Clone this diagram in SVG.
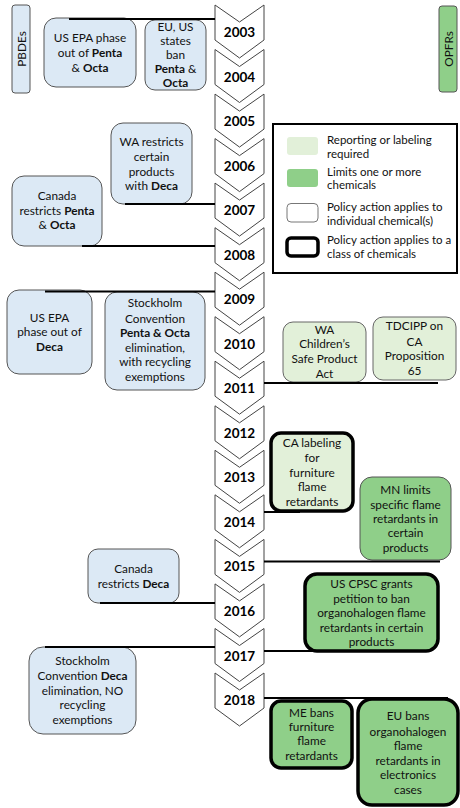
<svg xmlns="http://www.w3.org/2000/svg" width="460" height="808" viewBox="0 0 460 808">
<style>
.lb{fill:#dce9f5;stroke:#555;stroke-width:1}
.lg{fill:#e2f0d9;stroke:#666;stroke-width:1}
.mg{fill:#8fcf89;stroke:#555;stroke-width:1}
.thick{stroke:#000;stroke-width:3.5}
.t{font-family:Lato,"Open Sans",sans-serif;font-size:11.8px;fill:#111;text-anchor:middle}
.lt{font-family:Lato,"Open Sans",sans-serif;font-size:11.5px;fill:#111}
.b{font-weight:bold}
.yr{font-family:Lato,"Open Sans",sans-serif;font-size:13.5px;font-weight:bold;fill:#000;text-anchor:middle}
.chev{fill:#fff;stroke:#444;stroke-width:1}
.conn{stroke:#000;stroke-width:2;fill:none}
</style>
<defs>
<path id="chv" d="M215,0 L239.5,17 L264,0 L264,35 L239.5,53 L215,35 Z"/>
</defs>
<rect width="460" height="808" fill="#fff"/>

<g id="timeline">
<use href="#chv" class="chev" y="5"/><text class="yr" x="239.5" y="37">2003</text>
<use href="#chv" class="chev" y="49.5"/><text class="yr" x="239.5" y="81.5">2004</text>
<use href="#chv" class="chev" y="94.1"/><text class="yr" x="239.5" y="126">2005</text>
<use href="#chv" class="chev" y="138.6"/><text class="yr" x="239.5" y="170.6">2006</text>
<use href="#chv" class="chev" y="183.1"/><text class="yr" x="239.5" y="215.1">2007</text>
<use href="#chv" class="chev" y="227.7"/><text class="yr" x="239.5" y="259.7">2008</text>
<use href="#chv" class="chev" y="272.2"/><text class="yr" x="239.5" y="304.2">2009</text>
<use href="#chv" class="chev" y="316.7"/><text class="yr" x="239.5" y="348.7">2010</text>
<use href="#chv" class="chev" y="361.2"/><text class="yr" x="239.5" y="393.2">2011</text>
<use href="#chv" class="chev" y="405.8"/><text class="yr" x="239.5" y="437.8">2012</text>
<use href="#chv" class="chev" y="450.3"/><text class="yr" x="239.5" y="482.3">2013</text>
<use href="#chv" class="chev" y="494.8"/><text class="yr" x="239.5" y="526.8">2014</text>
<use href="#chv" class="chev" y="539.4"/><text class="yr" x="239.5" y="571.4">2015</text>
<use href="#chv" class="chev" y="583.9"/><text class="yr" x="239.5" y="615.9">2016</text>
<use href="#chv" class="chev" y="628.5"/><text class="yr" x="239.5" y="660.5">2017</text>
<use href="#chv" class="chev" y="673"/><text class="yr" x="239.5" y="705">2018</text>
</g>

<g id="pbdes">
<rect class="lb" x="12" y="5" width="18" height="88" rx="3"/>
<text class="t" transform="translate(25.5,49) rotate(-90)">PBDEs</text>
</g>
<g id="opfrs">
<rect class="mg" x="439" y="6" width="18" height="86" rx="3"/>
<text class="t" transform="translate(452.5,49) rotate(-90)">OPFRs</text>
</g>

<g id="us-epa-penta-octa">
<rect class="lb" x="44" y="18" width="92" height="69" rx="12"/>
<text class="t" x="90" y="42">US EPA phase</text>
<text class="t" x="90" y="57">out of <tspan class="b">Penta</tspan></text>
<text class="t" x="90" y="72">&amp; <tspan class="b">Octa</tspan></text>
</g>
<g id="eu-us-states">
<rect class="lb" x="145" y="20" width="61" height="70" rx="10"/>
<text class="t" x="175.5" y="31">EU, US</text>
<text class="t" x="175.5" y="45">states</text>
<text class="t" x="175.5" y="59">ban</text>
<text class="t" x="175.5" y="73"><tspan class="b">Penta</tspan> &amp;</text>
<text class="t b" x="175.5" y="87">Octa</text>
</g>
<g id="wa-restricts">
<rect class="lb" x="111" y="123" width="81" height="81" rx="12"/>
<text class="t" x="151.5" y="146">WA restricts</text>
<text class="t" x="151.5" y="161">certain</text>
<text class="t" x="151.5" y="176">products</text>
<text class="t" x="151.5" y="190">with <tspan class="b">Deca</tspan></text>
</g>
<g id="canada-penta-octa">
<rect class="lb" x="12" y="176" width="90" height="70" rx="12"/>
<text class="t" x="57" y="200">Canada</text>
<text class="t" x="57" y="215">restricts <tspan class="b">Penta</tspan></text>
<text class="t" x="57" y="229">&amp; <tspan class="b">Octa</tspan></text>
</g>
<g id="us-epa-deca">
<rect class="lb" x="7" y="290" width="85" height="84" rx="12"/>
<text class="t" x="49.5" y="322">US EPA</text>
<text class="t" x="49.5" y="336">phase out of</text>
<text class="t b" x="49.5" y="351">Deca</text>
</g>
<g id="stockholm-penta-octa">
<rect class="lb" x="105" y="292" width="100" height="98" rx="12"/>
<text class="t" x="155" y="307">Stockholm</text>
<text class="t" x="155" y="323">Convention</text>
<text class="t b" x="155" y="337">Penta &amp; Octa</text>
<text class="t" x="155" y="352">elimination,</text>
<text class="t" x="155" y="366">with recycling</text>
<text class="t" x="155" y="381">exemptions</text>
</g>
<g id="canada-deca">
<rect class="lb" x="88" y="549" width="91" height="54" rx="10"/>
<text class="t" x="133.5" y="573">Canada</text>
<text class="t" x="133.5" y="588">restricts <tspan class="b">Deca</tspan></text>
</g>
<g id="stockholm-deca">
<rect class="lb" x="29" y="647" width="107" height="87" rx="14"/>
<text class="t" x="82.5" y="665">Stockholm</text>
<text class="t" x="82.5" y="680">Convention <tspan class="b">Deca</tspan></text>
<text class="t" x="82.5" y="695">elimination, NO</text>
<text class="t" x="82.5" y="709">recycling</text>
<text class="t" x="82.5" y="724">exemptions</text>
</g>

<g id="wa-children">
<rect class="lg" x="283" y="322" width="83" height="60" rx="10"/>
<text class="t" x="324.5" y="334">WA</text>
<text class="t" x="324.5" y="348">Children’s</text>
<text class="t" x="324.5" y="363">Safe Product</text>
<text class="t" x="324.5" y="378">Act</text>
</g>
<g id="tdcipp">
<rect class="lg" x="373" y="317" width="83" height="63" rx="10"/>
<text class="t" x="414.5" y="330">TDCIPP on</text>
<text class="t" x="414.5" y="346">CA</text>
<text class="t" x="414.5" y="360">Proposition</text>
<text class="t" x="414.5" y="375">65</text>
</g>
<g id="ca-labeling">
<rect class="lg thick" x="271" y="433" width="82" height="78" rx="10"/>
<text class="t" x="312" y="447">CA labeling</text>
<text class="t" x="312" y="462">for</text>
<text class="t" x="312" y="477">furniture</text>
<text class="t" x="312" y="491">flame</text>
<text class="t" x="312" y="506">retardants</text>
</g>
<g id="mn-limits">
<rect class="mg" x="360" y="477" width="91" height="83" rx="12"/>
<text class="t" x="405.5" y="494">MN limits</text>
<text class="t" x="405.5" y="509">specific flame</text>
<text class="t" x="405.5" y="523">retardants in</text>
<text class="t" x="405.5" y="537">certain</text>
<text class="t" x="405.5" y="552">products</text>
</g>
<g id="us-cpsc">
<rect class="mg thick" x="305" y="574" width="133" height="77" rx="12"/>
<text class="t" x="371.5" y="588">US CPSC grants</text>
<text class="t" x="371.5" y="603">petition to ban</text>
<text class="t" x="371.5" y="617">organohalogen flame</text>
<text class="t" x="371.5" y="632">retardants in certain</text>
<text class="t" x="371.5" y="646">products</text>
</g>
<g id="me-bans">
<rect class="mg thick" x="271" y="701" width="81" height="67" rx="10"/>
<text class="t" x="311.5" y="717">ME bans</text>
<text class="t" x="311.5" y="731">furniture</text>
<text class="t" x="311.5" y="745">flame</text>
<text class="t" x="311.5" y="760">retardants</text>
</g>
<g id="eu-bans">
<rect class="mg thick" x="358" y="699" width="100" height="106" rx="14"/>
<text class="t" x="408" y="720">EU bans</text>
<text class="t" x="408" y="736">organohalogen</text>
<text class="t" x="408" y="750">flame</text>
<text class="t" x="408" y="765">retardants in</text>
<text class="t" x="408" y="779">electronics</text>
<text class="t" x="408" y="794">cases</text>
</g>

<g id="legend">
<rect x="273" y="124" width="184" height="149" fill="#fff" stroke="#000" stroke-width="2"/>
<rect x="287" y="137" width="31" height="18" rx="3" fill="#e2f0d9"/>
<text class="lt" x="327" y="144">Reporting or labeling</text>
<text class="lt" x="327" y="158">required</text>
<rect x="287" y="169" width="31" height="18" rx="3" fill="#8fcf89"/>
<text class="lt" x="327" y="176">Limits one or more</text>
<text class="lt" x="327" y="189">chemicals</text>
<rect x="287" y="203.5" width="31" height="18.5" rx="4" fill="#fff" stroke="#777" stroke-width="1"/>
<text class="lt" x="327" y="211">Policy action applies to</text>
<text class="lt" x="327" y="225">individual chemical(s)</text>
<rect x="287" y="238" width="31" height="18" rx="4" fill="#fff" stroke="#000" stroke-width="3.5"/>
<text class="lt" x="327" y="244">Policy action applies to a</text>
<text class="lt" x="327" y="258">class of chemicals</text>
</g>

<g id="connectors">
<line class="conn" x1="69" y1="19" x2="215" y2="19" stroke-width="2.5"/>
<line class="conn" x1="125" y1="204" x2="215" y2="204" stroke-width="1.5"/>
<line class="conn" x1="82" y1="246" x2="215" y2="246" stroke-width="2.5"/>
<line class="conn" x1="45" y1="291.5" x2="215" y2="291.5"/>
<line class="conn" x1="264" y1="383" x2="438" y2="383" stroke-width="1.5"/>
<line class="conn" x1="264" y1="512" x2="300" y2="512"/>
<line class="conn" x1="264" y1="561.5" x2="440" y2="561.5" stroke-width="2.5"/>
<line class="conn" x1="100" y1="603" x2="215" y2="603" stroke-width="1.5"/>
<line class="conn" x1="45" y1="647" x2="215" y2="647"/>
<line class="conn" x1="264" y1="651" x2="330" y2="651" stroke-width="1.5"/>
<line class="conn" x1="264" y1="698" x2="448" y2="698" stroke-width="1.5"/>
</g>
</svg>
